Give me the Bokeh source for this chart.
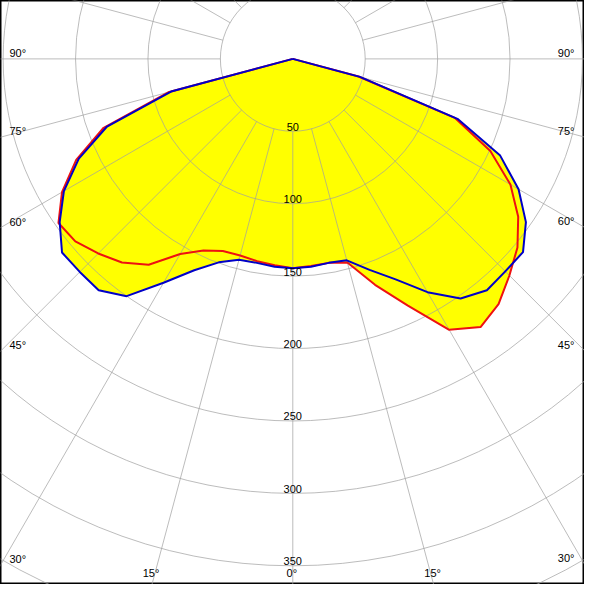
import numpy as np
from bokeh.plotting import figure
from bokeh.models import Range1d
from bokeh.embed import file_html
from bokeh.resources import INLINE
from bokeh.core.properties import value

# ---- data: luminous intensity (cd) versus gamma angle (deg) ----
gamma = [0, 5, 10, 15, 20, 25, 30, 35, 40, 45, 50, 55, 60, 65, 70, 75, 80, 85, 90]
c0_right = [144.5, 144, 143, 144, 155, 168, 186, 202, 208.5, 207.5, 207.5, 196.5, 180, 158, 121, 48, 0, 0, 0]
c180_left = [144.5, 144, 143, 143.5, 149.5, 161, 178.5, 200, 208.5, 208, 208, 196.5, 182.5, 163, 136.5, 87, 0, 0, 0]
c90_right = [144.5, 143.5, 143, 145.6, 166, 188, 216, 226, 221, 211.5, 202.5, 190, 173.5, 150.5, 119, 47, 0, 0, 0]
c270_left = [144.5, 143, 141.8, 140.5, 141.2, 146, 155.5, 173.5, 183.5, 190, 196, 197.5, 184, 165, 139, 89, 0, 0, 0]

ring_labels = [50, 100, 150, 200, 250, 300, 350]
ring_grid = [50, 100, 150, 200, 250, 300, 350, 400, 450]
spoke_angles = list(range(0, 360, 15))
side_angles = [90, 75, 60, 45, 30]
bottom_angles = [-15, 0, 15]

# ---- geometry: diagram square of 600 reference px, centre and scale ----
PX = 1.488          # reference pixels per cd
CX, CY = 300.3, 60.0
x0, x1 = (0 - CX) / PX, (600 - CX) / PX
y0, y1 = -(600 - CY) / PX, -(0 - CY) / PX
S = 584 / 600.0     # screen scale

p = figure(width=584, height=584, output_backend="svg", toolbar_location=None,
           x_range=Range1d(x0, x1), y_range=Range1d(y0, y1),
           min_border=0, background_fill_color="white", border_fill_color="white")
p.axis.visible = False
p.grid.visible = False
p.outline_line_color = "black"
p.outline_line_width = 2


def curve(left, right):
    g = np.radians(np.array(gamma, dtype=float))
    l = np.array(left, dtype=float)
    r = np.array(right, dtype=float)
    xs = np.concatenate([(-l * np.sin(g))[::-1], (r * np.sin(g))[1:]])
    ys = np.concatenate([(-l * np.cos(g))[::-1], (-r * np.cos(g))[1:]])
    return xs, ys


bx, by = curve(c180_left, c0_right)
rx, ry = curve(c270_left, c90_right)

yellow = "#FFFF00"
p.patch(bx, by, fill_color=yellow, line_color=None)
p.patch(rx, ry, fill_color=yellow, line_color=None)

grid_col = "#A0A0A0"
p.circle(x=[0] * len(ring_grid), y=[0] * len(ring_grid), radius=ring_grid,
         fill_color=None, line_color=grid_col, line_alpha=0.7, line_width=1)
sa = np.radians(np.array(spoke_angles, dtype=float))
p.segment(x0=50 * np.sin(sa), y0=-50 * np.cos(sa), x1=800 * np.sin(sa), y1=-800 * np.cos(sa),
          line_color=grid_col, line_alpha=0.7, line_width=1)

p.line(rx, ry, line_color="#EE1111", line_width=2)
p.line(bx, by, line_color="#0000C8", line_width=2)

font = value("Liberation Sans")
fs = "11px"

# ring value labels
p.text(x=[0] * len(ring_labels), y=[-v for v in ring_labels], text=[str(v) for v in ring_labels],
       text_align="center", text_baseline="middle", y_offset=-4.5,
       text_font=font, text_font_size=fs, text_color="black")

# side angle labels
left_w = CX / PX
right_w = (600 - CX) / PX
def ycross(w, a):
    return 0.0 if a == 90 else -w / np.tan(np.radians(a))

p.text(x=[x0] * len(side_angles), y=[ycross(left_w, a) for a in side_angles],
       text=[f"{a}°" for a in side_angles], text_align="left", text_baseline="middle",
       x_offset=9, y_offset=-6, text_font=font, text_font_size=fs, text_color="black")
p.text(x=[x1] * len(side_angles), y=[ycross(right_w, a) for a in side_angles],
       text=[f"{a}°" for a in side_angles], text_align="right", text_baseline="middle",
       x_offset=-10, y_offset=-6, text_font=font, text_font_size=fs, text_color="black")

# bottom angle labels
bot_h = (600 - CY) / PX
p.text(x=[bot_h * np.tan(np.radians(a)) for a in bottom_angles], y=[y0] * len(bottom_angles),
       text=[f"{abs(a)}°" for a in bottom_angles], text_align="center", text_baseline="middle",
       x_offset=-1, y_offset=-11.5, text_font=font, text_font_size=fs, text_color="black")

open("out.html", "w").write(file_html(p, INLINE))
